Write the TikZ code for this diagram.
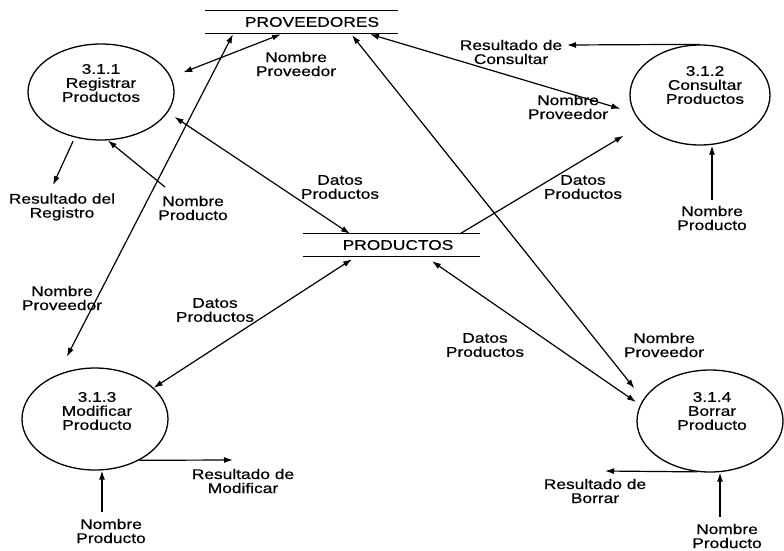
\documentclass[tikz,border=0pt]{standalone}
\usepackage{fontspec}
\setmainfont{Liberation Sans}[FakeStretch=1.24, FakeBold=0.6]
\usetikzlibrary{arrows.meta,shapes.geometric,calc}

\tikzset{
  every node/.style={font=\fontsize{14}{14}\selectfont, align=center, inner sep=0pt},
  proc/.style={draw, ellipse, line width=1.3pt},
  store/.style={minimum height=#1},
  storeline/.style={line width=1.3pt},
  flow/.style={line width=1.2pt, -{Latex[length=9pt,width=6pt]}},
  biflow/.style={line width=1.2pt, {Latex[length=9pt,width=6pt]}-{Latex[length=9pt,width=6pt]}},
}

\begin{document}
\begin{tikzpicture}[x=1pt,y=-1pt]
\useasboundingbox (0,0) rectangle (784,550);

% data stores
\node[store=22pt] (PV) at (312,22) {PROVEEDORES};
\draw[storeline] ([xshift=-107pt]PV.north) -- ([xshift=86pt]PV.north);
\draw[storeline] ([xshift=-107pt]PV.south) -- ([xshift=86pt]PV.south);

\node[store=22pt] (PR) at (398,245) {PRODUCTOS};
\draw[storeline] ([xshift=-95pt]PR.north) -- ([xshift=82pt]PR.north);
\draw[storeline] ([xshift=-95pt]PR.south) -- ([xshift=82pt]PR.south);

% processes
\node[proc, minimum width=146pt, minimum height=96pt]  (E1) at (101,92)  {};
\node[proc, minimum width=140pt, minimum height=100pt] (E2) at (700,95)  {};
\node[proc, minimum width=146pt, minimum height=102pt] (E3) at (95,419)  {};
\node[proc, minimum width=146pt, minimum height=102pt] (E4) at (710,421) {};

\node (E1t) at ([yshift=9pt]E1.center) {3.1.1\\Registrar\\Productos};
\node (E2t) at ([xshift=5pt,yshift=10pt]E2.center) {3.1.2\\Consultar\\Productos};
\node (E3t) at ([xshift=2pt,yshift=8pt]E3.center) {3.1.3\\Modificar\\Producto};
\node (E4t) at ([xshift=2pt,yshift=10pt]E4.center) {3.1.4\\Borrar\\Producto};

% free ends of the external flows
\coordinate (rr)  at (53,185);
\coordinate (np1) at (165,187);
\coordinate (rc)  at (567,45);
\coordinate (np2) at (712,200);
\coordinate (rm)  at (233,460);
\coordinate (np3) at (102,512);
\coordinate (rb)  at (605,471);
\coordinate (np4) at (720,517);

% flows with PROVEEDORES
\draw[biflow, shorten >=13pt] ([xshift=-31pt,yshift=-1pt]PV.south) -- (E1.12);
\draw[biflow, shorten >=20pt] ([xshift=-79pt,yshift=-1pt]PV.south) -- (E3.130);
\draw[biflow, shorten >=14pt] ([xshift=58pt,yshift=-1pt]PV.south) -- (E2.195);
\draw[biflow, shorten >=14pt] ([xshift=40pt,yshift=-2pt]PV.south) -- (E4.162);

% flows with PRODUCTOS
\draw[biflow, shorten >=8pt] ([xshift=-48pt]PR.north) -- (E1.343);
\draw[flow, shorten >=22pt] ([xshift=62pt]PR.north) -- (E2.207);
\draw[biflow] ([xshift=-46pt,yshift=-3pt]PR.south) -- (E3.28);
\draw[biflow, shorten >=5pt] ([xshift=34pt,yshift=-5pt]PR.south) -- (E4.167);

% external inputs and results
\draw[flow, shorten <=4pt] (E1.240) -- (rr);
\draw[flow] (np1) -- (E1.278);
\draw[flow] (E2.north) -- (rc);
\draw[flow] (np2) -- (np2 |- E2.south);
\draw[flow] (E3.317) -- (rm);
\draw[flow] (np3) -- (np3 |- E3.south);
\draw[flow] (E4.256) -- (rb);
\draw[flow] (np4) -- (np4 |- E4.south);

% flow labels
\node (l1)  at (296,64)  {Nombre\\Proveedor};
\node (l2)  at (62,207)  {Resultado del\\Registro};
\node (l3)  at (193,208) {Nombre\\Producto};
\node (l4)  at (340,187) {Datos\\Productos};
\node (l5)  at (511,52)  {Resultado de\\Consultar};
\node (l6)  at (568,107) {Nombre\\Proveedor};
\node (l7)  at (583,187) {Datos\\Productos};
\node (l8)  at (712,218) {Nombre\\Producto};
\node (l9)  at (62,298)  {Nombre\\Proveedor};
\node (l10) at (215,310) {Datos\\Productos};
\node (l11) at (485,345) {Datos\\Productos};
\node (l12) at (664,345) {Nombre\\Proveedor};
\node (l13) at (243,481) {Resultado de\\Modificar};
\node (l14) at (111,531) {Nombre\\Producto};
\node (l15) at (595,491) {Resultado de\\Borrar};
\node (l16) at (727,536) {Nombre\\Producto};
\end{tikzpicture}
\end{document}
